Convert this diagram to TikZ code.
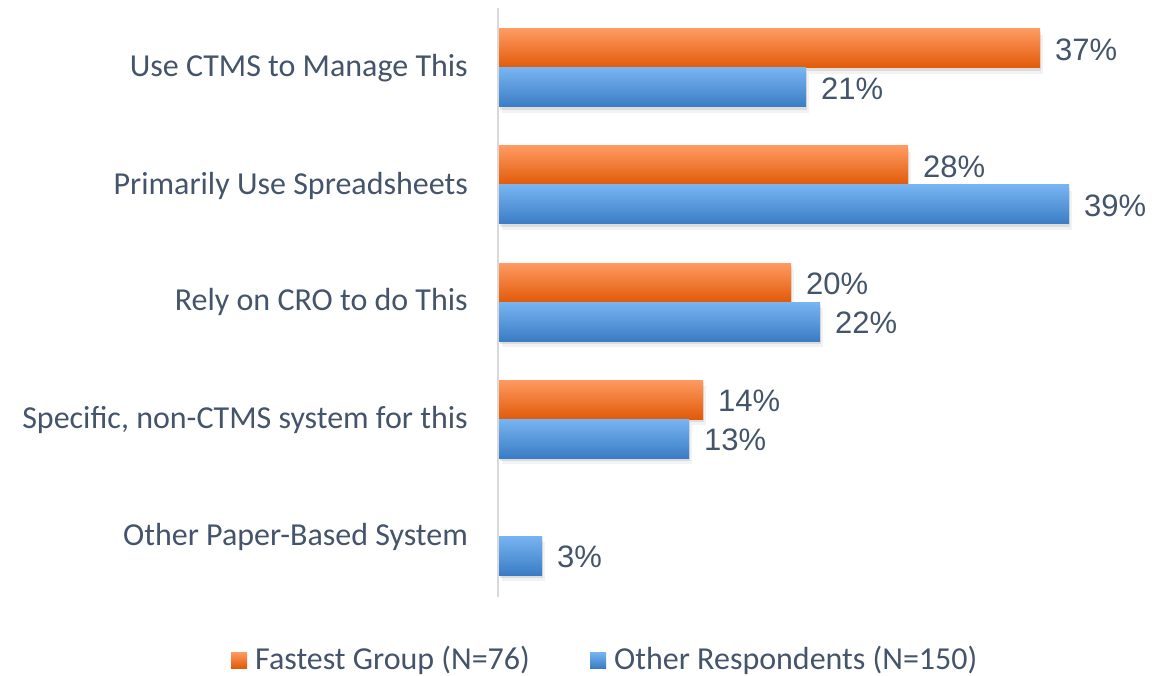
\documentclass[tikz,border=0pt]{standalone}
\usepackage{fontspec}
\usepackage{tikz}
\setmainfont{Carlito}
\newfontfamily\valfont{Liberation Sans}
\definecolor{txtslate}{HTML}{44546A}
\definecolor{orangetop}{HTML}{FF9A62}
\definecolor{orangebot}{HTML}{E15A08}
\definecolor{bluetop}{HTML}{78B4F2}
\definecolor{bluebot}{HTML}{3A7CC4}
\definecolor{axisgray}{HTML}{D9D9D9}

\begin{document}
\begin{tikzpicture}[x=1pt,y=-1pt,
	every node/.style={txtslate,inner sep=0pt},
	cat/.style={anchor=east,font=\fontsize{32}{36}\selectfont},
	val/.style={anchor=west,xshift=15pt,font=\valfont\fontsize{31}{34}\selectfont},
	leg/.style={anchor=west,font=\fontsize{32}{36}\selectfont},
	orangebar/.style={top color=orangetop,bottom color=orangebot},
	bluebar/.style={top color=bluetop,bottom color=bluebot},
	barshadow/.style={fill=black,opacity=0.09,xshift=1pt,yshift=-3pt},
	barshadowsoft/.style={fill=black,opacity=0.05,xshift=3pt,yshift=-6pt}]
	\useasboundingbox (0,0) rectangle (1174,676);

	\coordinate (axtop) at (498,8);
	\coordinate (axbot) at (498,597);
	\draw[axisgray,line width=1.5pt] (axtop)--(axbot);

	\fill[barshadowsoft] (499,29) rectangle (1040,68);
	\fill[barshadow] (499,29) rectangle (1040,68);
	\shade[orangebar] (499,29) rectangle (1040,68);
	\fill[barshadowsoft] (499,68) rectangle (806,107);
	\fill[barshadow] (499,68) rectangle (806,107);
	\shade[bluebar] (499,68) rectangle (806,107);

	\fill[barshadowsoft] (499,146) rectangle (908,185);
	\fill[barshadow] (499,146) rectangle (908,185);
	\shade[orangebar] (499,146) rectangle (908,185);
	\fill[barshadowsoft] (499,185) rectangle (1069,224);
	\fill[barshadow] (499,185) rectangle (1069,224);
	\shade[bluebar] (499,185) rectangle (1069,224);

	\fill[barshadowsoft] (499,263) rectangle (791,302);
	\fill[barshadow] (499,263) rectangle (791,302);
	\shade[orangebar] (499,263) rectangle (791,302);
	\fill[barshadowsoft] (499,302) rectangle (820,341);
	\fill[barshadow] (499,302) rectangle (820,341);
	\shade[bluebar] (499,302) rectangle (820,341);

	\fill[barshadowsoft] (499,380) rectangle (703,419);
	\fill[barshadow] (499,380) rectangle (703,419);
	\shade[orangebar] (499,380) rectangle (703,419);
	\fill[barshadowsoft] (499,419) rectangle (689,458);
	\fill[barshadow] (499,419) rectangle (689,458);
	\shade[bluebar] (499,419) rectangle (689,458);

	\fill[barshadowsoft] (499,536) rectangle (542,575);
	\fill[barshadow] (499,536) rectangle (542,575);
	\shade[bluebar] (499,536) rectangle (542,575);

	\node[cat] (c1) at (468,68) {Use CTMS to Manage This};
	\node[cat] (c2) at (468,186) {Primarily Use Spreadsheets};
	\node[cat] (c3) at (468,302) {Rely on CRO to do This};
	\node[cat] (c4) at (468,420) {Specific, non-CTMS system for this};
	\node[cat] (c5) at (468,537) {Other Paper-Based System};

	\node[val] (f1) at (1040,50) {37\%};
	\node[val] (o1) at (806,89) {21\%};
	\node[val] (f2) at (908,167) {28\%};
	\node[val] (o2) at (1069,206) {39\%};
	\node[val] (f3) at (791,284) {20\%};
	\node[val] (o3) at (820,323) {22\%};
	\node[val] (f4) at (703,401) {14\%};
	\node[val] (o4) at (689,440) {13\%};
	\node[val] (o5) at (542,557) {3\%};

	\shade[orangebar] (231,652) rectangle (247,668);
	\node[leg] (lf) at (255,660) {Fastest Group (N=76)};
	\shade[bluebar] (590,652) rectangle (606,668);
	\node[leg] (lo) at (614,660) {Other Respondents (N=150)};
\end{tikzpicture}
\end{document}
